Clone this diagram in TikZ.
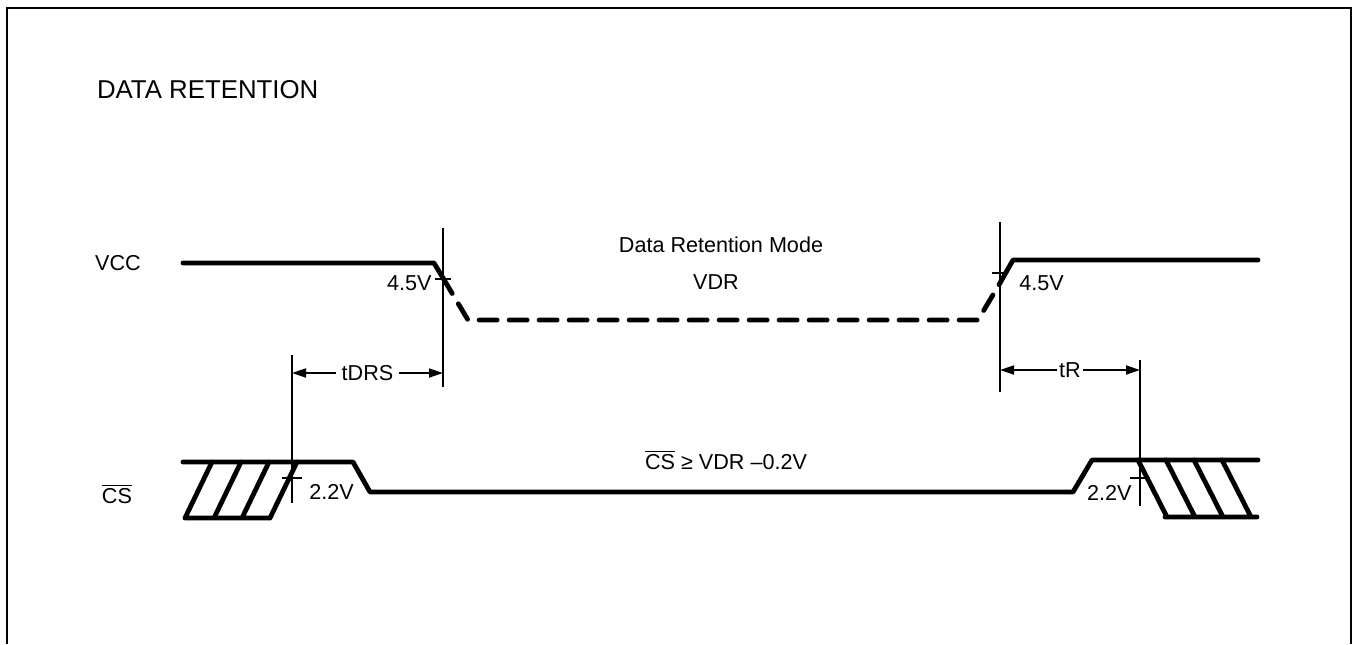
\documentclass[tikz,border=0pt]{standalone}
\usepackage{fontspec}
\setmainfont{Liberation Sans}
\usetikzlibrary{arrows.meta}
\newcommand{\csbar}{$\overline{\mbox{CS}}$}
\begin{document}
\begin{tikzpicture}[x=0.5pt,y=-0.5pt,>={Triangle[length=7pt,width=4.5pt]},
        sig/.style={line width=2.4pt,line cap=round,line join=round},
        dsig/.style={sig,dash pattern=on 9pt off 6pt},
        guide/.style={line width=0.9pt},
        dim/.style={guide,<->},
        lbl/.style={font=\fontsize{10.8}{12}\selectfont,inner sep=1pt}]
    \useasboundingbox(0,0)rectangle(1355,644);
    % frame, open at the bottom
    \draw[line width=1.4pt](7,644)--(7,8)--(1351,8)--(1351,644);
    \node[anchor=west,font=\fontsize{12.9}{15}\selectfont](title)at(90,90){DATA RETENTION};
    % signal names
    \node[lbl](vcc)at(118,263){VCC};
    \node[lbl](cs)at(117,494){\csbar};
    % guide lines
    \coordinate(g1t)at(292,355);\coordinate(g1b)at(292,503);
    \coordinate(g2t)at(443,228);\coordinate(g2b)at(443,387);
    \coordinate(g3t)at(1000,222);\coordinate(g3b)at(1000,392);
    \coordinate(g4t)at(1140,360);\coordinate(g4b)at(1140,506);
    \draw[guide](g1t)--(g1b)(g2t)--(g2b)(g3t)--(g3b)(g4t)--(g4b);
    % level marks
    \draw[guide](435,279)--(451,279)(992,273)--(1008,273);
    \draw[guide](282,478)--(302,478)(1130,478)--(1150,478);
    % VCC
    \draw[sig](183,263)--(434,263)--(443,278);
    \draw[dsig](443,278)--(468,320)--(978,320)--(1000,283);
    \draw[sig](1000,283)--(1013,260)--(1258,260);
    \node[lbl,anchor=east](lo1)at(434,283){4.5V};
    \node[lbl,anchor=west](hi1)at(1017,283){4.5V};
    \node[lbl](mode)at(721,245){Data Retention Mode};
    \node[lbl](vdr)at(716,282){VDR};
    % CS
    \draw[sig](183,462)--(353,462)--(370,492)--(1073,492)--(1092,460)--(1258,460);
    \draw[sig](185,518)--(270,518)
        \foreach \x in {185,214,242,270}{(\x,518)--++(27,-56)};
    \draw[sig](1165,517)--(1257,517)
        \foreach \x in {1138,1166,1194,1222}{(\x,460)--++(29,57)};
    \node[lbl,anchor=west](lo2)at(307,492){2.2V};
    \node[lbl,anchor=east](hi2)at(1134,493){2.2V};
    \node[lbl](cond)at(726,460){\csbar\ ≥ VDR –0.2V};
    % timing
    \coordinate(drsL)at(g1t|-0,373);\coordinate(drsR)at(g2t|-0,373);
    \coordinate(rL)at(g3t|-0,370);\coordinate(rR)at(g4t|-0,370);
    \draw[dim](drsL)--(drsR)node[lbl,midway,fill=white,inner xsep=3pt](tdrs){tDRS};
    \draw[dim](rL)--(rR)node[lbl,midway,fill=white,inner xsep=1pt](tr){tR};
\end{tikzpicture}
\end{document}
